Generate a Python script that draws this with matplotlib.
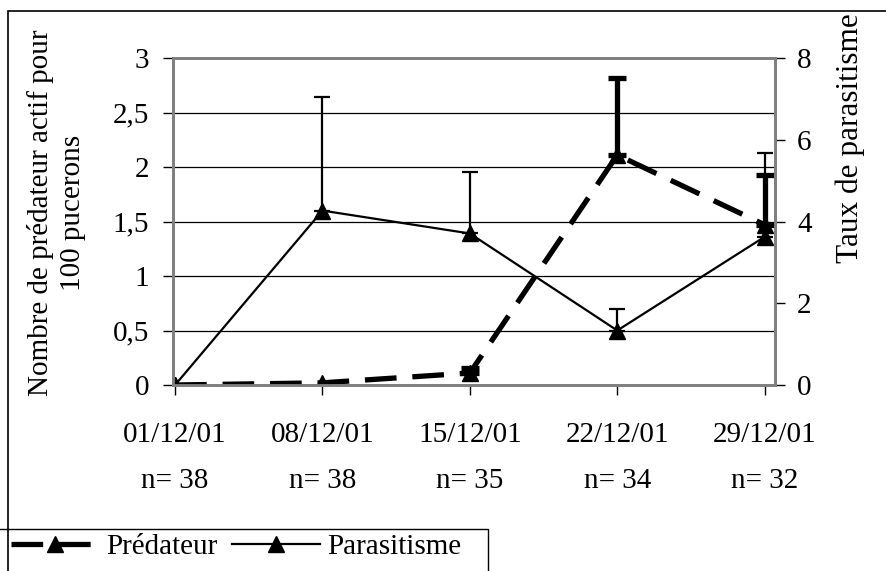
import numpy as np
import matplotlib
matplotlib.use("Agg")
import matplotlib.pyplot as plt
from matplotlib.patches import Rectangle

# dates de relevé et effectifs
dates = ["01/12/01", "08/12/01", "15/12/01", "22/12/01", "29/12/01"]
effectifs = [38, 38, 35, 34, 32]

# série en tirets (légende "Prédateur") - échelle de gauche
predateur = [0.0, 0.02, 0.11, 2.11, 1.47]
predateur_err = [0.0, 0.0, 0.05, 0.71, 0.46]

# série continue (légende "Parasitisme") - échelle de gauche
parasitisme = [0.0, 1.60, 1.39, 0.50, 1.36]
parasitisme_err = [0.0, 1.04, 0.56, 0.20, 0.77]

left_ticks = [0, 0.5, 1, 1.5, 2, 2.5, 3]
left_labels = ["0", "0,5", "1", "1,5", "2", "2,5", "3"]
right_ticks = [0, 2, 4, 6, 8]

plt.rcParams["font.family"] = ["Liberation Serif", "DejaVu Serif"]
FS = 21

fig = plt.figure(figsize=(8.87, 5.71), dpi=100)
ax = fig.add_axes([173 / 887, 1 - 385 / 571, (775 - 173) / 887, (385 - 58) / 571])
ax2 = ax.twinx()

x = np.arange(len(dates))

# barres d'erreur (uniquement vers le haut)
err_p = np.array(parasitisme_err)
m = err_p > 0
ax.errorbar(x[m], np.array(parasitisme)[m], yerr=[np.zeros(m.sum()), err_p[m]],
            fmt="none", ecolor="black", elinewidth=1.6, capsize=5.5, capthick=1.6, zorder=3)
err_d = np.array(predateur_err)
m = err_d > 0
ax.errorbar(x[m], np.array(predateur)[m], yerr=[np.zeros(m.sum()), err_d[m]],
            fmt="none", ecolor="black", elinewidth=3.8, capsize=6.5, capthick=3.8, zorder=3)

l_pred, = ax.plot(x, predateur, color="black", lw=3.8, dashes=(6, 3),
                  marker="^", ms=11.5, zorder=4, label="Prédateur")
l_para, = ax.plot(x, parasitisme, color="black", lw=1.6,
                  marker="^", ms=11.5, zorder=4, label="Parasitisme")

ax.set_ylim(0, 3)
ax.set_xlim(-0.014, 4.07)
ax2.set_ylim(0, 8)

ax.set_yticks(left_ticks)
ax.set_yticklabels(left_labels)
ax2.set_yticks(right_ticks)
ax.set_xticks(x)
ax.set_xticklabels([f"{d}\nn= {n}" for d, n in zip(dates, effectifs)], linespacing=2.0)

ax.yaxis.grid(True, color="black", lw=0.9)
ax.set_axisbelow(True)

for a in (ax, ax2):
    for s in a.spines.values():
        s.set_color("#808080")
        s.set_linewidth(2)
ax.tick_params(axis="y", labelsize=FS, length=7, width=1, direction="out", pad=10)
ax2.tick_params(axis="y", labelsize=FS, length=7, width=1, direction="out", pad=9)
ax.tick_params(axis="x", labelsize=FS, length=7, width=1, direction="out", pad=20)

# titres des axes
fig.text(57 / 887, 1 - 213 / 571, "Nombre de prédateur actif pour\n100 pucerons",
         rotation=90, ha="center", va="center", fontsize=FS, multialignment="center",
         linespacing=1.3)
fig.text(850 / 887, 1 - 263 / 571, "Taux de parasitisme", rotation=90,
         ha="center", va="bottom", fontsize=22.5)

# cadre extérieur
fig.patches.append(Rectangle((8 / 887, -0.2), 1.2, 1.2 - 11 / 571, transform=fig.transFigure,
                             fill=False, edgecolor="black", lw=1.2))

# légende, avec son cadre qui déborde à gauche et en bas
fig.patches.append(Rectangle((-0.02, -0.1), 0.02 + 488 / 887, 0.1 + 1 - 529 / 571,
                             transform=fig.transFigure, fill=False,
                             edgecolor="black", lw=1.0, zorder=1))
leg = fig.legend(handles=[l_pred, l_para], loc="upper left", ncol=2,
                 bbox_to_anchor=(0.008, 1 - 529 / 571), fontsize=FS,
                 frameon=False, handlelength=3.0, handletextpad=0.25, columnspacing=0.5,
                 borderpad=0.15, borderaxespad=0)
leg.set_zorder(2)

fig.savefig("out.png", dpi=100)
